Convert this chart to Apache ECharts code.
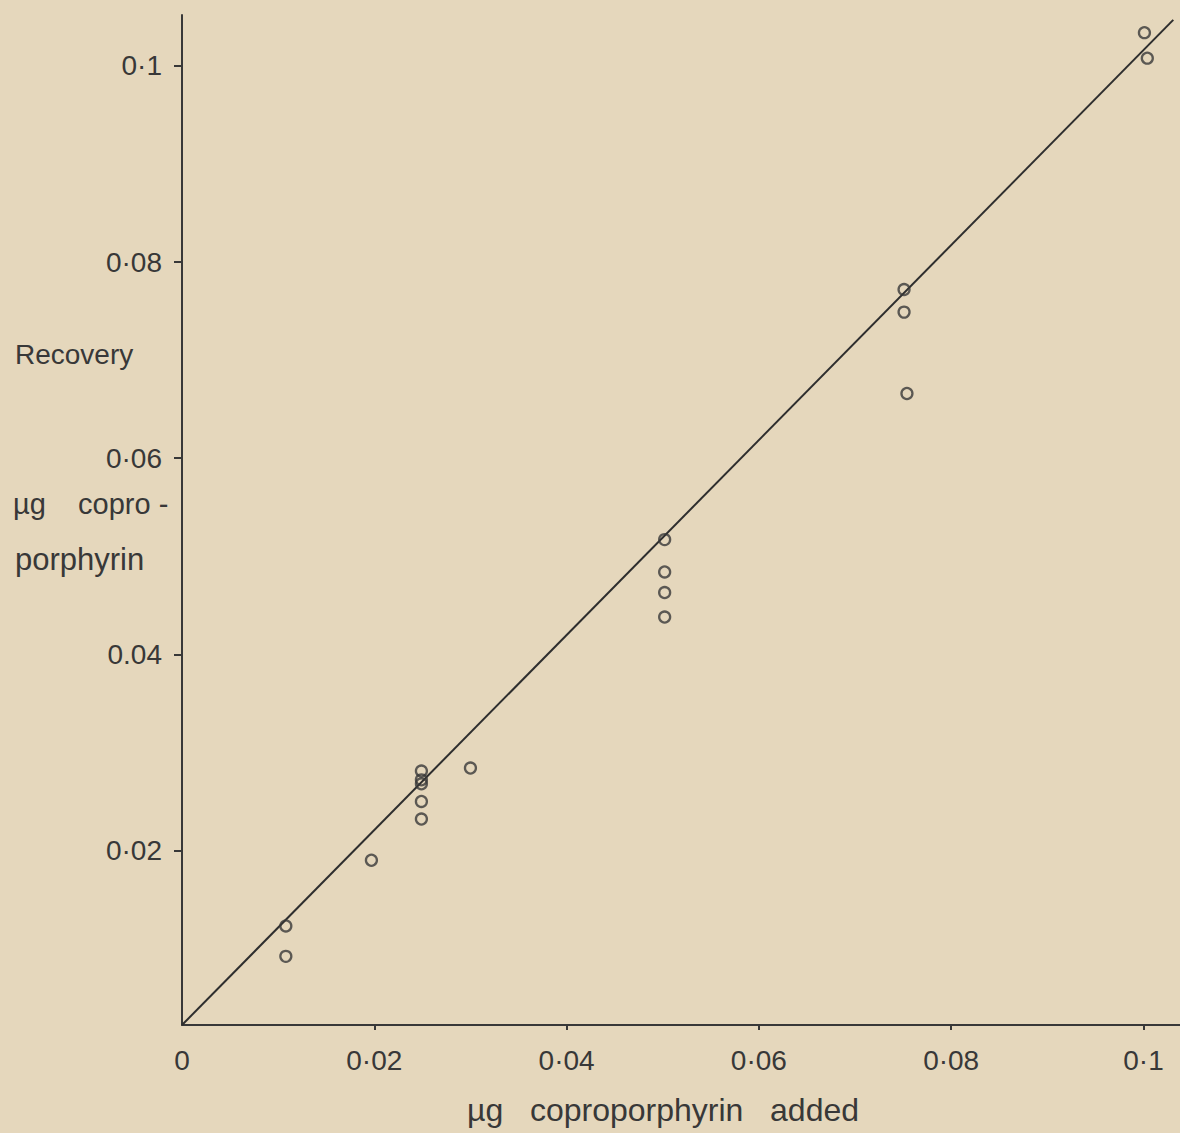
<!DOCTYPE html>
<html>
<head>
<meta charset="utf-8">
<script src="https://cdn.jsdelivr.net/npm/echarts@6/dist/echarts.min.js"></script>
<style>
html,body{margin:0;padding:0;background:#e5d7bc;}
#chart{width:1180px;height:1133px;}
</style>
</head>
<body>
<div id="chart"></div>
<script>
// ---- data ----
const addedX = [0.0108, 0.0108, 0.0197, 0.0249, 0.0249, 0.0249, 0.0249, 0.0249, 0.0300,
                0.0502, 0.0502, 0.0502, 0.0502, 0.0751, 0.0751, 0.0754, 0.1001, 0.1004];
const recoveredY = [0.0123, 0.0092, 0.0190, 0.0281, 0.0272, 0.0268, 0.0250, 0.0232, 0.0284,
                    0.0517, 0.0484, 0.0463, 0.0438, 0.0772, 0.0749, 0.0666, 0.1034, 0.1008];
const fitLineX = [0, 0.1031];
const fitLineY = [0.0022, 0.1047];

const xTicks = [0, 0.02, 0.04, 0.06, 0.08, 0.1];
const xTickLabels = ['0', '0·02', '0·04', '0·06', '0·08', '0·1'];
const yTicks = [0.02, 0.04, 0.06, 0.08, 0.1];
const yTickLabels = ['0·02', '0.04', '0·06', '0·08', '0·1'];

const xTitle = 'µg   coproporphyrin   added';
const yTitleLines = ['Recovery', 'µg    copro -', 'porphyrin'];

// ---- build ----
const ink = '#383838';
const font = 'Liberation Sans';
function lookup(ticks, labels, v) {
  let best = 0;
  for (let i = 0; i < ticks.length; i++) {
    if (Math.abs(ticks[i] - v) < Math.abs(ticks[best] - v)) best = i;
  }
  return labels[best];
}
const points = addedX.map((x, i) => [x, recoveredY[i]]);
const linePts = fitLineX.map((x, i) => [x, fitLineY[i]]);

const chart = echarts.init(document.getElementById('chart'), null, {renderer: 'svg'});
chart.setOption({
  backgroundColor: '#e5d7bc',
  animation: false,
  grid: {left: 182, right: 0, top: 15, bottom: 108, containLabel: false},
  xAxis: {
    type: 'value', min: 0, max: 0.1038,
    axisLine: {show: true, lineStyle: {color: ink, width: 2}},
    axisTick: {show: true, inside: false, length: 5, customValues: xTicks.slice(1), lineStyle: {color: ink, width: 2}},
    axisLabel: {
      customValues: xTicks, margin: 21, color: ink, fontFamily: font, fontSize: 28,
      formatter: v => lookup(xTicks, xTickLabels, v)
    },
    splitLine: {show: false}
  },
  yAxis: {
    type: 'value', min: 0.0022, max: 0.1052,
    axisLine: {show: true, lineStyle: {color: ink, width: 2}},
    axisTick: {show: true, inside: false, length: 8, customValues: yTicks, lineStyle: {color: ink, width: 2}},
    axisLabel: {
      customValues: yTicks, margin: 20, color: ink, fontFamily: font, fontSize: 28,
      formatter: v => lookup(yTicks, yTickLabels, v)
    },
    splitLine: {show: false}
  },
  graphic: [
    {type: 'text', left: 15, top: 340, style: {text: yTitleLines[0], fill: ink, font: '28px "' + font + '"'}},
    {type: 'text', left: 13, top: 489, style: {text: yTitleLines[1], fill: ink, font: '29px "' + font + '"'}},
    {type: 'text', left: 15, top: 544, style: {text: yTitleLines[2], fill: ink, font: '31px "' + font + '"'}},
    {type: 'text', left: 467, top: 1094, style: {text: xTitle, fill: ink, font: '32px "' + font + '"'}}
  ],
  series: [
    {
      type: 'line', data: linePts, showSymbol: false, silent: true,
      lineStyle: {color: '#2e2e2e', width: 2}, z: 2
    },
    {
      type: 'scatter', data: points, symbol: 'circle', symbolSize: 11,
      itemStyle: {color: 'rgba(0,0,0,0)', borderColor: ink, borderWidth: 2.3}, z: 3
    }
  ]
});
</script>
</body>
</html>
